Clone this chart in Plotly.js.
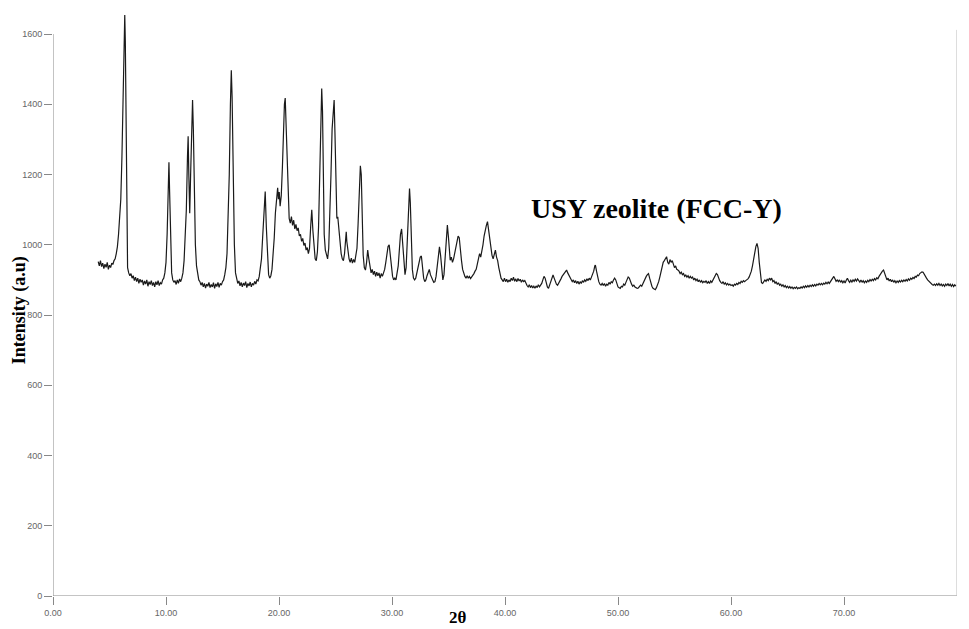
<!DOCTYPE html>
<html>
<head>
<meta charset="utf-8">
<script src="https://cdn.plot.ly/plotly-3.0.1.min.js"></script>
<style>html,body{margin:0;padding:0;background:#fff;}#chart{width:969px;height:629px;}</style>
</head>
<body>
<div id="chart"></div>
<script>
// XRD scan, [2theta, intensity]
const scanLow = [
[4.0,952],[4.1,940],[4.2,955],[4.3,938],[4.4,948],[4.5,932],[4.6,945],[4.7,936],[4.8,950],[4.9,930],
[5.0,942],[5.1,935],[5.2,948],[5.3,944],[5.4,955],[5.5,960],[5.6,975],[5.7,995],[5.8,1030],[5.9,1080],
[5.95,1090],[6.0,1130],[6.1,1250],[6.2,1450],[6.3,1600],[6.35,1654],[6.4,1580],[6.45,1350],[6.5,1100],[6.55,980],
[6.6,935],[6.7,920],[6.8,912],[6.9,918],[7.0,905],[7.1,912],[7.2,898],[7.3,908],[7.4,895],[7.5,905],
[7.6,890],[7.7,902],[7.8,893],[7.9,900],[8.0,885],[8.1,897],[8.2,888],[8.3,900],[8.4,882],[8.5,895],
[8.6,887],[8.7,898],[8.8,884],[8.9,893],[9.0,880],[9.1,895],[9.2,886],[9.3,898],[9.4,884],[9.5,892],
[9.6,888],[9.7,900],[9.8,905],[9.9,920],[10.0,950],[10.1,1030],[10.2,1180],[10.26,1235],[10.32,1150],[10.4,990],
[10.5,920],[10.6,900],[10.7,893],[10.8,898],[10.9,887],[11.0,900],[11.1,890],[11.2,903],[11.3,895],[11.4,905],
[11.5,920],[11.6,955],[11.7,1010],[11.8,1100],[11.9,1250],[11.96,1309],[12.02,1200],[12.1,1090],[12.18,1200],[12.26,1330],
[12.35,1412],[12.42,1330],[12.5,1150],[12.6,1000],[12.7,940],[12.8,912],[12.9,900],[13.0,895],[13.1,885],[13.2,893],
[13.3,880],[13.4,890],[13.5,877],[13.6,888],[13.7,882],[13.8,893],[13.9,878],[14.0,887],[14.1,880],[14.2,892],
[14.3,876],[14.4,889],[14.5,881],[14.6,893],[14.7,879],[14.8,890],[14.9,885],[15.0,895],[15.1,900],[15.2,915],
[15.3,935],[15.4,975],[15.5,1060],[15.6,1200],[15.7,1400],[15.78,1497],[15.85,1420],[15.95,1200],[16.05,1000],[16.15,920],
[16.25,900],[16.35,890],[16.45,897],[16.55,883],[16.65,893],[16.75,880],[16.85,891],[16.95,884],[17.05,895],[17.15,878],
[17.25,890],[17.35,883],[17.45,894],[17.55,880],[17.65,890],[17.75,885],[17.85,896],[17.95,888],[18.05,900],[18.15,897],
[18.25,910],[18.35,930],[18.45,960],[18.55,1020],[18.65,1100],[18.78,1152],[18.88,1050],[18.98,950],[19.08,915],[19.18,905],
[19.28,912],[19.38,930],[19.48,965],[19.58,1020],[19.68,1090],[19.78,1140],[19.88,1162],[19.95,1130]
];
const scanMid = [
[20.02,1150],[20.1,1110],[20.2,1140],[20.3,1220],[20.4,1330],[20.48,1400],[20.55,1418],[20.62,1350],[20.7,1230],[20.8,1120],
[20.9,1075],[21.0,1062],[21.1,1080],[21.2,1055],[21.3,1070],[21.4,1045],[21.5,1058],[21.6,1040],[21.7,1048],[21.8,1025],
[21.9,1030],[22.0,1010],[22.1,1018],[22.2,998],[22.3,1005],[22.4,985],[22.5,992],[22.6,975],[22.7,990],[22.8,1050],
[22.9,1100],[23.0,1040],[23.1,985],[23.2,960],[23.3,955],[23.4,980],[23.5,1050],[23.6,1200],[23.7,1350],[23.78,1445],
[23.85,1380],[23.92,1200],[24.0,1030],[24.1,985],[24.2,970],[24.3,960],[24.4,990],[24.5,1080],[24.6,1200],[24.7,1330],
[24.8,1400],[24.88,1412],[24.95,1320],[25.05,1150],[25.12,1075],[25.2,1080],[25.3,1040],[25.4,1000],[25.5,975],[25.6,960],
[25.7,955],[25.8,975],[25.9,1030],[25.95,1037],[26.0,1010],[26.1,975],[26.2,960],[26.3,950],[26.4,962],[26.5,948],
[26.6,958],[26.7,950],[26.8,965],[26.9,990],[27.0,1060],[27.1,1150],[27.2,1225],[27.28,1200],[27.35,1080],[27.45,970],
[27.55,935],[27.65,928],[27.75,950],[27.85,985],[27.95,960],[28.05,935],[28.15,920],[28.25,930],[28.35,915],[28.45,925],
[28.55,910],[28.65,922],[28.75,912],[28.85,920],[28.95,905],[29.05,918],[29.15,910],[29.25,920],[29.35,930],[29.45,950],
[29.55,975],[29.65,995],[29.75,1000],[29.85,970],[29.95,930],[30.05,910],[30.15,900],[30.25,905],[30.35,900],[30.45,915],
[30.55,940],[30.65,985],[30.75,1030],[30.85,1045],[30.95,1000],[31.05,940],[31.15,915],[31.25,935],[31.35,1000],[31.45,1100],
[31.55,1160],[31.62,1120],[31.7,1000],[31.8,930],[31.9,905],[32.0,900],[32.1,905],[32.2,920],[32.3,935],[32.4,950],
[32.5,965],[32.6,968],[32.7,935],[32.8,905],[32.9,895],[33.0,900],[33.1,912],[33.2,925],[33.3,930],[33.4,915],
[33.5,905],[33.6,900],[33.7,893],[33.8,895],[33.9,910],[34.0,935],[34.1,965],[34.2,994],[34.3,970],[34.4,920],
[34.5,900],[34.6,915],[34.7,960],[34.8,1020],[34.9,1056],[35.0,1020],[35.1,975],[35.15,956],[35.25,965],[35.35,950],
[35.45,960],[35.55,975],[35.65,990],[35.75,1005],[35.85,1025],[35.95,1020],[36.05,980],[36.15,955],[36.25,930],[36.35,915],
[36.45,910],[36.55,905],[36.65,912],[36.75,905],[36.85,910],[36.95,904],[37.05,908],[37.15,912],[37.25,918],[37.35,925],
[37.45,930],[37.55,945],[37.65,965],[37.75,975],[37.85,965],[37.95,980],[38.05,1000],[38.15,1025],[38.25,1045],[38.35,1055],
[38.45,1066],[38.55,1040],[38.65,1010],[38.75,985],[38.85,970],[38.95,960],[39.05,975],[39.15,985],[39.25,965],[39.35,955],
[39.45,935],[39.55,915],[39.65,905],[39.75,900],[39.85,895],[39.95,905]
];
const scanHigh = [
[40.05,895],[40.15,902],[40.25,893],[40.35,900],[40.45,895],[40.55,905],[40.65,898],[40.75,908],[40.85,896],[40.95,903],
[41.05,895],[41.15,904],[41.25,897],[41.35,902],[41.45,893],[41.55,900],[41.65,895],[41.75,898],[41.85,888],[41.95,884],
[42.05,880],[42.15,886],[42.25,878],[42.35,884],[42.45,877],[42.55,882],[42.65,876],[42.75,883],[42.85,878],[42.95,886],
[43.05,880],[43.15,885],[43.25,890],[43.35,900],[43.45,910],[43.55,905],[43.65,890],[43.75,880],[43.85,876],[43.95,885],
[44.05,895],[44.15,905],[44.25,914],[44.35,905],[44.45,893],[44.55,888],[44.65,885],[44.75,890],[44.85,895],[44.95,903],
[45.05,910],[45.15,915],[45.25,920],[45.35,925],[45.45,928],[45.55,920],[45.65,913],[45.75,905],[45.85,900],[45.95,895],
[46.05,900],[46.15,892],[46.25,898],[46.35,890],[46.45,896],[46.55,888],[46.65,895],[46.75,890],[46.85,898],[46.95,893],
[47.05,900],[47.15,896],[47.25,903],[47.35,898],[47.45,905],[47.55,900],[47.65,908],[47.75,915],[47.85,925],[47.95,940],
[48.0,942],[48.1,925],[48.2,905],[48.3,895],[48.4,888],[48.5,885],[48.6,890],[48.7,884],[48.8,890],[48.9,882],
[49.0,888],[49.1,885],[49.2,893],[49.3,888],[49.4,895],[49.5,892],[49.6,900],[49.7,905],[49.8,900],[49.9,888],
[50.0,880],[50.1,878],[50.2,876],[50.3,882],[50.4,880],[50.5,888],[50.6,885],[50.7,893],[50.8,900],[50.9,908],
[51.0,905],[51.1,895],[51.2,888],[51.3,882],[51.4,885],[51.5,880],[51.6,878],[51.7,876],[51.8,877],[51.9,880],
[52.0,885],[52.1,882],[52.2,890],[52.3,895],[52.4,902],[52.5,910],[52.6,915],[52.7,918],[52.8,905],[52.9,892],
[53.0,882],[53.1,876],[53.2,873],[53.3,872],[53.4,878],[53.5,885],[53.6,895],[53.7,908],[53.8,925],[53.9,940],
[54.0,950],[54.1,955],[54.2,962],[54.3,966],[54.4,950],[54.5,945],[54.6,958],[54.7,950],[54.8,955],[54.9,940],
[55.0,935],[55.1,940],[55.2,930],[55.3,928],[55.4,925],[55.5,918],[55.6,922],[55.7,915],[55.8,918],[55.9,910],
[56.0,914],[56.1,908],[56.2,912],[56.3,905],[56.4,910],[56.5,905],[56.6,908],[56.7,900],[56.8,905],[56.9,898],
[57.0,902],[57.1,895],[57.2,900],[57.3,893],[57.4,898],[57.5,892],[57.6,896],[57.7,893],[57.8,898],[57.9,890],
[58.0,895],[58.1,890],[58.2,897],[58.3,893],[58.4,900],[58.5,905],[58.6,912],[58.7,918],[58.8,915],[58.9,905],
[59.0,898],[59.1,893],[59.2,890],[59.3,895],[59.4,888],[59.5,892],[59.6,886],[59.7,890],[59.8,885],[59.9,888],
[60.0,884],[60.1,886],[60.2,882],[60.3,888],[60.4,885],[60.5,890],[60.6,887],[60.7,893],[60.8,890],[60.9,896],
[61.0,893],[61.1,898],[61.2,895],[61.3,898],[61.4,900],[61.5,903],[61.6,908],[61.7,915],[61.8,925],[61.9,940],
[62.0,960],[62.1,980],[62.2,995],[62.3,1004],[62.4,990],[62.5,950],[62.6,910],[62.7,892],[62.8,890],[62.9,895],
[63.0,900],[63.1,896],[63.2,902],[63.3,898],[63.4,905],[63.5,900],[63.6,905],[63.7,895],[63.8,898],[63.9,890],
[64.0,895],[64.1,887],[64.2,892],[64.3,885],[64.4,888],[64.5,882],[64.6,886],[64.7,880],[64.8,884],[64.9,878],
[65.0,882],[65.1,877],[65.2,881],[65.3,876],[65.4,880],[65.5,875],[65.6,879],[65.7,876],[65.8,880],[65.9,875],
[66.0,878],[66.1,876],[66.2,880],[66.3,877],[66.4,882],[66.5,878],[66.6,883],[66.7,879],[66.8,884],[66.9,880],
[67.0,885],[67.1,881],[67.2,886],[67.3,882],[67.4,887],[67.5,883],[67.6,888],[67.7,885],[67.8,890],[67.9,886],
[68.0,890],[68.1,886],[68.2,891],[68.3,888],[68.4,893],[68.5,889],[68.6,894],[68.7,890],[68.8,896],[68.9,900],
[69.0,906],[69.1,910],[69.2,903],[69.3,896],[69.4,900],[69.5,895],[69.6,900],[69.7,893],[69.8,898],[69.9,892],
[70.0,897],[70.1,891],[70.2,899],[70.3,905],[70.4,898],[70.5,893],[70.6,899],[70.7,894],[70.8,900],[70.9,896],
[71.0,902],[71.1,897],[71.2,903],[71.3,899],[71.4,894],[71.5,900],[71.6,893],[71.7,898],[71.8,892],[71.9,897],
[72.0,893],[72.1,899],[72.2,895],[72.3,901],[72.4,897],[72.5,902],[72.6,898],[72.7,904],[72.8,900],[72.9,906],
[73.0,903],[73.1,910],[73.2,915],[73.3,922],[73.4,925],[73.5,928],[73.6,918],[73.7,908],[73.8,900],[73.9,905],
[74.0,897],[74.1,902],[74.2,895],[74.3,900],[74.4,893],[74.5,898],[74.6,892],[74.7,897],[74.8,893],[74.9,898],
[75.0,894],[75.1,899],[75.2,895],[75.3,900],[75.4,896],[75.5,901],[75.6,897],[75.7,903],[75.8,899],[75.9,905],
[76.0,902],[76.1,907],[76.2,904],[76.3,910],[76.4,908],[76.5,914],[76.6,912],[76.7,918],[76.8,920],[76.9,923],
[77.0,922],[77.1,915],[77.2,910],[77.3,905],[77.4,900],[77.5,896],[77.6,893],[77.7,890],[77.8,887],[77.9,885],
[78.0,888],[78.1,884],[78.2,889],[78.3,885],[78.4,890],[78.5,884],[78.6,888],[78.7,883],[78.8,887],[78.9,882],
[79.0,888],[79.1,884],[79.2,890],[79.3,883],[79.4,888],[79.5,882],[79.6,887],[79.7,881],[79.8,886],[79.9,882]
];
const xTickVals = [0,10,20,30,40,50,60,70];
const xTickText = ["0.00","10.00","20.00","30.00","40.00","50.00","60.00","70.00"];
const yTickVals = [0,200,400,600,800,1000,1200,1400,1600];
const yTickText = ["0","200","400","600","800","1000","1200","1400","1600"];
const seriesLabel = "USY zeolite (FCC-Y)";

const scan = scanLow.concat(scanMid, scanHigh);
const twoTheta = scan.map(p => p[0]);
const intensity = scan.map(p => p[1]);

const tickFont = {family: "Liberation Sans Narrow, Arial Narrow, Liberation Sans, sans-serif", size: 9, color: "#666"};
const serif = "Liberation Serif, Times New Roman, serif";

const trace = {
  x: twoTheta, y: intensity, type: "scatter", mode: "lines",
  line: {color: "#1a1a1a", width: 1.2}, hoverinfo: "skip", showlegend: false
};

const layout = {
  width: 969, height: 629,
  margin: {l: 53, r: 12, t: 13, b: 33},
  paper_bgcolor: "#fff", plot_bgcolor: "#fff",
  showlegend: false,
  xaxis: {
    range: [0, 80], showgrid: false, zeroline: false, showline: false,
    tickmode: "array", tickvals: xTickVals, ticktext: xTickText,
    ticks: "outside", ticklen: 8, tickcolor: "#888", tickwidth: 1, tickfont: tickFont
  },
  yaxis: {
    range: [0, 1660], showgrid: false, zeroline: false, showline: false,
    tickmode: "array", tickvals: yTickVals, ticktext: yTickText,
    ticks: "outside", ticklen: 8, tickcolor: "#888", tickwidth: 1, tickfont: tickFont
  },
  shapes: [
    {type: "line", xref: "x", yref: "y", x0: 0, x1: 0, y0: 0, y1: 1600, line: {color: "#888", width: 1}},
    {type: "line", xref: "x", yref: "y", x0: 0, x1: 80, y0: 0, y1: 0, line: {color: "#888", width: 1}},
    {type: "line", xref: "x", yref: "y", x0: 80, x1: 80, y0: 0, y1: 1612, line: {color: "#bbb", width: 1}}
  ],
  annotations: [
    {text: "<b>" + seriesLabel + "</b>", xref: "x", yref: "y", x: 53.45, y: 1102,
     showarrow: false, font: {family: serif, size: 28, color: "#000"}},
    {text: "<b>Intensity (a.u)</b>", xref: "paper", yref: "paper", x: -0.0376, y: 0.49,
     textangle: -90, showarrow: false, xanchor: "center", yanchor: "middle",
     font: {family: serif, size: 18, color: "#000"}},
    {text: "<b>2θ</b>", xref: "paper", yref: "paper", x: 0.448, y: -0.037,
     showarrow: false, xanchor: "center", yanchor: "middle",
     font: {family: serif, size: 17, color: "#000"}}
  ]
};

Plotly.newPlot("chart", [trace], layout, {staticPlot: true, displayModeBar: false});
</script>
</body>
</html>
